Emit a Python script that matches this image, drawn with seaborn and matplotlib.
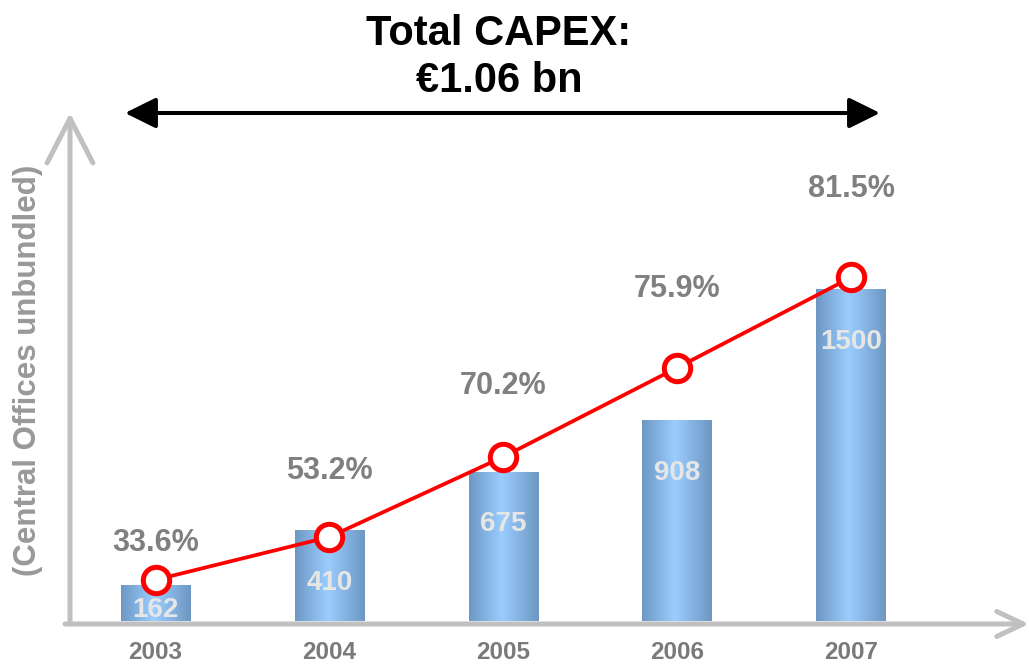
import numpy as np
import matplotlib
matplotlib.use("Agg")
import matplotlib.pyplot as plt
from matplotlib.colors import LinearSegmentedColormap
import seaborn as sns

# ---------------- data ----------------
years = ["2003", "2004", "2005", "2006", "2007"]
capex_values = [162, 410, 675, 908, 1500]          # bar values
line_values = [186, 380, 742, 1145, 1553]          # red line (same scale as bars)
pct_labels = ["33.6%", "53.2%", "70.2%", "75.9%", "81.5%"]
title_line1 = "Total CAPEX:"
title_line2 = "€1.06 bn"
y_label = "(Central Offices unbundled)"

# ---------------- style ----------------
sns.set_style("white")
plt.rcParams["font.family"] = ["Liberation Sans", "DejaVu Sans"]
plt.rcParams["font.weight"] = "bold"

W, H = 1029, 670
fig = plt.figure(figsize=(W / 100, H / 100), dpi=100)

# axes placement (pixels): left 70, right 1029, baseline at 621, top at 90
ax_left, ax_right, ax_base, ax_top = 70, 1029, 621, 90
ax = fig.add_axes([ax_left / W, (H - ax_base) / H,
                   (ax_right - ax_left) / W, (ax_base - ax_top) / H])

pos = np.arange(len(years))
sns.barplot(x=years, y=capex_values, width=0.40, color="#85b2e2",
            ax=ax, zorder=2, saturation=1)

ax.set_xlim(-0.4917, 5.023)
ax.set_ylim(0, 2400)

# gradient fill for bars
cmap = LinearSegmentedColormap.from_list(
    "barg", [(0.0, "#6e97c3"), (0.47, "#9acdff"), (1.0, "#6e97c2")])
grad = np.linspace(0, 1, 256).reshape(1, -1)
for p in list(ax.patches):
    x0, y0 = p.get_x(), p.get_y()
    w, h = p.get_width(), p.get_height()
    im = ax.imshow(grad, extent=[x0, x0 + w, y0, y0 + h], aspect="auto",
                   cmap=cmap, zorder=2.1, interpolation="bilinear")
    im.set_clip_path(p)
ax.set_xlim(-0.4917, 5.023)
ax.set_ylim(0, 2400)

# red line with hollow markers
sns.lineplot(x=pos, y=line_values, ax=ax, color="#ff0000", linewidth=2.7,
             marker="o", markersize=19.0, markerfacecolor="white",
             markeredgecolor="#ff0000", markeredgewidth=3.6, zorder=5)

# bar value labels (inside bars)
for i, v in enumerate(capex_values):
    if v < 300:
        ax.annotate(str(v), xy=(i, 0), xytext=(0, 3), textcoords="offset points",
                    ha="center", va="baseline", fontsize=20, fontweight="bold",
                    color="#e6e6e6", zorder=6)
    else:
        ax.annotate(str(v), xy=(i, v), xytext=(0, -43), textcoords="offset points",
                    ha="center", va="baseline", fontsize=20, fontweight="bold",
                    color="#e6e6e6", zorder=6)

# percentage labels above the line points
pct_offsets = [20.9, 41.8, 45.0, 51.1, 57.6]
for i, (v, t) in enumerate(zip(line_values, pct_labels)):
    ax.annotate(t, xy=(i, v), xytext=(0, pct_offsets[i]), textcoords="offset points",
                ha="center", va="baseline", fontsize=22, fontweight="bold",
                color="#808080", zorder=6)

# axes: hide spines, draw gray arrows
for s in ax.spines.values():
    s.set_visible(False)
ax.set_yticks([])
ax.set_ylabel("")
ax.set_xlabel("")
ax.tick_params(axis="x", length=0, pad=14.5, labelsize=17.5, labelcolor="#7a7a7a")
for lab in ax.get_xticklabels():
    lab.set_fontweight("bold")

gray = "#c0c0c0"
# x axis arrow
ax.annotate("", xy=(1.0, -0.0056), xytext=(-0.0052, -0.0056),
            xycoords="axes fraction", textcoords="axes fraction",
            arrowprops=dict(arrowstyle="->,head_length=19,head_width=9",
                            mutation_scale=1, lw=3.6, color=gray,
                            shrinkA=0, shrinkB=0, capstyle="round",
                            joinstyle="round"),
            annotation_clip=False, zorder=1)
# y axis arrow
ax.annotate("", xy=(0.0, 0.9567), xytext=(0.0, -0.0056),
            xycoords="axes fraction", textcoords="axes fraction",
            arrowprops=dict(arrowstyle="->,head_length=32,head_width=16.5",
                            mutation_scale=1, lw=3.6, color=gray,
                            shrinkA=0, shrinkB=0, capstyle="round",
                            joinstyle="round"),
            annotation_clip=False, zorder=1)

# y label
fig.text(28.5 / W, (H - 370) / H, y_label, rotation=90, ha="center", va="center",
         fontsize=22.5, fontweight="bold", color="#999999")

# title
fig.text(499 / W, (H - 45) / H, title_line1, ha="center", va="baseline",
         fontsize=30, fontweight="bold", color="black")
fig.text(499 / W, (H - 91.5) / H, title_line2, ha="center", va="baseline",
         fontsize=30, fontweight="bold", color="black")

# double-headed black arrow under the title
fig.add_artist(matplotlib.patches.FancyArrowPatch(
    posA=(125 / W, (H - 113) / H), posB=(880 / W, (H - 113) / H),
    transform=fig.transFigure,
    arrowstyle="<|-|>,head_length=19,head_width=9.4", mutation_scale=1,
    lw=2.9, color="black", shrinkA=0, shrinkB=0))

fig.savefig("out.png", dpi=100)
